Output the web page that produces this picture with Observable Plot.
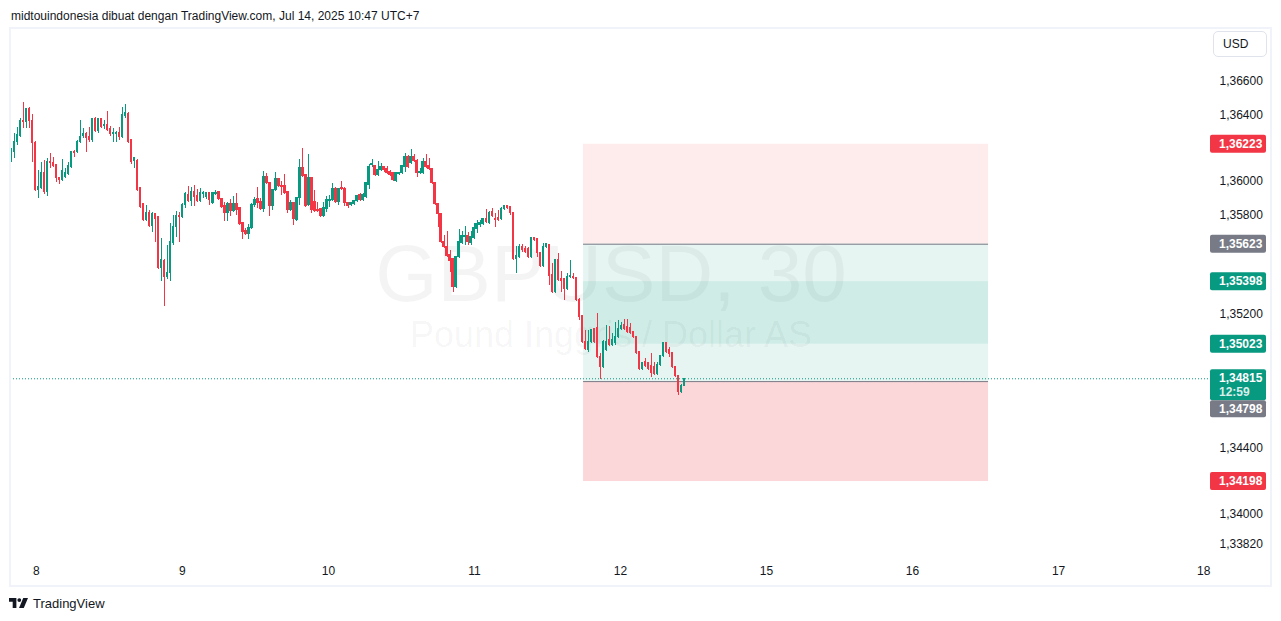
<!DOCTYPE html>
<html>
<head>
<meta charset="utf-8">
<script src="https://cdn.jsdelivr.net/npm/d3@7"></script>
<script src="https://cdn.jsdelivr.net/npm/@observablehq/plot@0.6"></script>
<style>
  html, body { margin:0; padding:0; background:#fff; width:1281px; height:621px; overflow:hidden;
    font-family:"Liberation Sans", Arial, sans-serif; color:#131722; }
  #header { position:absolute; left:11px; top:9px; font-size:12px; line-height:14px; white-space:nowrap; color:#131722; }
  #chart { position:absolute; left:0; top:28px; }
  #frame { position:absolute; left:9px; top:27px; width:1259px; height:556px; border:2px solid #F0F3FA; pointer-events:none; }
  #usd { position:absolute; left:1213px; top:31px; width:52px; height:24px; border:1px solid #E0E3EB; border-radius:5px;
    font-size:12px; line-height:24px; padding-left:0; text-indent:9px; color:#131722; background:#fff; }
  #footer { position:absolute; left:9px; top:596px; height:14px; display:flex; align-items:center; font-size:13px; color:#131722; }
  #footer svg { margin-right:5px; }
</style>
</head>
<body>
<div id="header"></div>
<div id="chart"></div>
<div id="frame"></div>
<div id="usd">USD</div>
<div id="footer">
  <svg width="19" height="10" viewBox="0 0 36 19" preserveAspectRatio="none">
    <path d="M0 0h14v19H7V7H0z" fill="#131722"/>
    <circle cx="19.5" cy="4" r="3.6" fill="#131722"/>
    <path d="M27 0h9l-8 19h-9z" fill="#131722"/>
  </svg>
  <span>TradingView</span>
</div>
<script>
// ---------- texts ----------
const headerText = "midtouindonesia dibuat dengan TradingView.com, Jul 14, 2025 10:47 UTC+7";
const symbolTitle = "GBPUSD, 30";
const symbolSubtitle = "Pound Inggris / Dollar AS";
const countdown = "12:59";

// ---------- candle data (GBPUSD 30m) ----------
const opens = [1.36138,1.36174,1.36234,1.36270,1.36360,1.36354,1.36432,1.36360,1.36228,1.35946,
1.35958,1.36048,1.35934,1.36114,1.36108,1.36096,1.36018,1.36006,1.36024,1.36042,
1.36084,1.36174,1.36174,1.36234,1.36270,1.36282,1.36264,1.36246,1.36372,1.36300,
1.36372,1.36330,1.36336,1.36312,1.36282,1.36282,1.36288,1.36264,1.36390,1.36402,
1.36246,1.36120,1.36120,1.35958,1.35862,1.35766,1.35808,1.35730,1.35802,1.35784,
1.35478,1.35520,1.35424,1.35448,1.35628,1.35724,1.35790,1.35784,1.35856,1.35916,
1.35880,1.35934,1.35910,1.35880,1.35922,1.35904,1.35928,1.35868,1.35922,1.35934,
1.35892,1.35850,1.35808,1.35862,1.35820,1.35862,1.35838,1.35748,1.35700,1.35682,
1.35718,1.35856,1.35892,1.35874,1.35832,1.36024,1.35988,1.35850,1.35946,1.36012,
1.35970,1.35970,1.35934,1.35826,1.35868,1.35766,1.35898,1.36078,1.36036,1.35856,
1.36018,1.35874,1.35826,1.35832,1.35790,1.35832,1.35880,1.35886,1.35952,1.35874,
1.35958,1.35952,1.35868,1.35856,1.35862,1.35880,1.35916,1.35886,1.35904,1.35976,
1.36096,1.36090,1.36036,1.36066,1.36084,1.36072,1.36054,1.36048,1.36000,1.36042,
1.36048,1.36084,1.36144,1.36108,1.36144,1.36120,1.36048,1.36048,1.36114,1.36090,
1.36072,1.35988,1.35862,1.35802,1.35634,1.35604,1.35556,1.35532,1.35364,1.35544,
1.35628,1.35664,1.35670,1.35628,1.35658,1.35712,1.35736,1.35742,1.35772,1.35748,
1.35814,1.35772,1.35778,1.35772,1.35832,1.35850,1.35844,1.35808,1.35532,1.35544,
1.35604,1.35592,1.35592,1.35544,1.35658,1.35652,1.35568,1.35490,1.35604,1.35616,
1.35436,1.35334,1.35526,1.35412,1.35412,1.35352,1.35424,1.35424,1.35418,1.35286,
1.35190,1.35034,1.34986,1.35034,1.35112,1.35118,1.34944,1.34884,1.34986,1.35046,
1.35016,1.35028,1.35064,1.35112,1.35136,1.35124,1.35118,1.35094,1.35064,1.34974,
1.34872,1.34914,1.34908,1.34890,1.34884,1.34842,1.34896,1.34950,1.35028,1.34986,
1.34968,1.34884,1.34830,1.34734,1.34774];
const highs = [1.36198,1.36288,1.36324,1.36378,1.36474,1.36432,1.36444,1.36402,1.36240,1.36066,
1.36114,1.36126,1.36138,1.36168,1.36144,1.36102,1.36024,1.36132,1.36078,1.36114,
1.36180,1.36186,1.36246,1.36366,1.36318,1.36294,1.36324,1.36378,1.36384,1.36378,
1.36378,1.36366,1.36420,1.36330,1.36318,1.36300,1.36324,1.36444,1.36462,1.36414,
1.36252,1.36144,1.36132,1.35964,1.35868,1.35856,1.35826,1.35814,1.35808,1.35790,
1.35658,1.35532,1.35616,1.35748,1.35796,1.35820,1.35814,1.35868,1.35934,1.35970,
1.35964,1.35976,1.35952,1.35958,1.35940,1.35934,1.35934,1.35934,1.35946,1.35940,
1.35898,1.35874,1.35874,1.35892,1.35910,1.35928,1.35844,1.35754,1.35718,1.35742,
1.35868,1.35904,1.35964,1.35898,1.36060,1.36048,1.35994,1.35952,1.36054,1.36018,
1.36000,1.36042,1.35940,1.35886,1.35874,1.35904,1.36132,1.36198,1.36042,1.36162,
1.36024,1.35946,1.35874,1.35838,1.35874,1.35910,1.35916,1.35988,1.35964,1.35958,
1.36000,1.35964,1.35874,1.35874,1.35886,1.35916,1.35928,1.35928,1.35994,1.36102,
1.36132,1.36096,1.36120,1.36108,1.36090,1.36090,1.36066,1.36054,1.36054,1.36054,
1.36096,1.36168,1.36156,1.36192,1.36162,1.36132,1.36078,1.36138,1.36162,1.36138,
1.36078,1.35994,1.35868,1.35808,1.35676,1.35700,1.35586,1.35538,1.35550,1.35712,
1.35700,1.35730,1.35694,1.35700,1.35748,1.35766,1.35766,1.35778,1.35832,1.35820,
1.35838,1.35808,1.35826,1.35844,1.35856,1.35856,1.35850,1.35814,1.35610,1.35622,
1.35622,1.35610,1.35604,1.35664,1.35664,1.35658,1.35574,1.35628,1.35628,1.35622,
1.35508,1.35532,1.35568,1.35460,1.35418,1.35448,1.35526,1.35448,1.35424,1.35298,
1.35196,1.35106,1.35106,1.35112,1.35118,1.35208,1.34968,1.35046,1.35136,1.35130,
1.35088,1.35154,1.35166,1.35154,1.35172,1.35172,1.35148,1.35100,1.35070,1.34980,
1.34914,1.34938,1.34914,1.34968,1.34914,1.34914,1.34956,1.35034,1.35034,1.35004,
1.34974,1.34890,1.34836,1.34780,1.34818];
const lows = [1.36114,1.36138,1.36216,1.36264,1.36318,1.36318,1.36318,1.36114,1.35940,1.35898,
1.35952,1.35922,1.35910,1.36078,1.36084,1.35994,1.35982,1.36000,1.36018,1.36036,
1.36078,1.36144,1.36168,1.36228,1.36258,1.36174,1.36234,1.36234,1.36294,1.36288,
1.36318,1.36312,1.36300,1.36270,1.36234,1.36234,1.36246,1.36258,1.36378,1.36228,
1.36102,1.36078,1.35940,1.35838,1.35760,1.35760,1.35724,1.35694,1.35634,1.35472,
1.35400,1.35250,1.35412,1.35400,1.35616,1.35664,1.35634,1.35778,1.35838,1.35874,
1.35850,1.35850,1.35874,1.35874,1.35898,1.35892,1.35856,1.35862,1.35916,1.35886,
1.35838,1.35760,1.35760,1.35790,1.35814,1.35796,1.35736,1.35652,1.35676,1.35652,
1.35712,1.35844,1.35838,1.35826,1.35814,1.35982,1.35790,1.35826,1.35940,1.35964,
1.35916,1.35922,1.35808,1.35820,1.35736,1.35760,1.35856,1.36024,1.35844,1.35850,
1.35808,1.35814,1.35814,1.35784,1.35784,1.35814,1.35844,1.35880,1.35868,1.35856,
1.35946,1.35850,1.35838,1.35850,1.35856,1.35874,1.35880,1.35880,1.35898,1.35952,
1.36084,1.36030,1.36030,1.36060,1.36054,1.36042,1.36030,1.36000,1.35994,1.36036,
1.36042,1.36054,1.36078,1.36102,1.36114,1.36024,1.36042,1.36042,1.36078,1.36066,
1.35982,1.35856,1.35724,1.35628,1.35598,1.35544,1.35454,1.35334,1.35358,1.35538,
1.35622,1.35616,1.35616,1.35616,1.35652,1.35688,1.35724,1.35736,1.35748,1.35742,
1.35784,1.35724,1.35760,1.35766,1.35826,1.35832,1.35796,1.35526,1.35448,1.35538,
1.35574,1.35568,1.35538,1.35538,1.35640,1.35544,1.35484,1.35484,1.35598,1.35376,
1.35328,1.35328,1.35400,1.35334,1.35286,1.35346,1.35418,1.35412,1.35280,1.35166,
1.35028,1.34986,1.34974,1.35028,1.35028,1.34938,1.34812,1.34878,1.34980,1.35010,
1.35010,1.35016,1.35058,1.35106,1.35106,1.35088,1.35082,1.35058,1.34962,1.34866,
1.34866,1.34884,1.34866,1.34824,1.34836,1.34836,1.34890,1.34944,1.34968,1.34944,
1.34878,1.34824,1.34716,1.34728,1.34770];
const closes = [1.36186,1.36234,1.36276,1.36360,1.36354,1.36432,1.36360,1.36228,1.35946,1.35964,
1.36048,1.35934,1.36114,1.36108,1.36090,1.36018,1.36006,1.36060,1.36048,1.36090,
1.36174,1.36168,1.36234,1.36264,1.36282,1.36258,1.36246,1.36372,1.36300,1.36372,
1.36324,1.36336,1.36306,1.36282,1.36288,1.36288,1.36264,1.36396,1.36408,1.36234,
1.36114,1.36138,1.35946,1.35844,1.35766,1.35808,1.35730,1.35802,1.35772,1.35478,
1.35526,1.35424,1.35448,1.35634,1.35724,1.35790,1.35784,1.35856,1.35922,1.35880,
1.35934,1.35904,1.35880,1.35928,1.35928,1.35928,1.35886,1.35928,1.35928,1.35892,
1.35844,1.35808,1.35862,1.35820,1.35862,1.35826,1.35742,1.35694,1.35682,1.35718,
1.35856,1.35886,1.35868,1.35832,1.36024,1.35988,1.35850,1.35946,1.36012,1.35970,
1.35964,1.35928,1.35826,1.35868,1.35772,1.35898,1.36078,1.36030,1.35850,1.36018,
1.35826,1.35820,1.35820,1.35790,1.35838,1.35886,1.35886,1.35952,1.35874,1.35952,
1.35952,1.35868,1.35850,1.35868,1.35880,1.35910,1.35886,1.35916,1.35988,1.36084,
1.36102,1.36036,1.36066,1.36084,1.36066,1.36048,1.36036,1.36006,1.36048,1.36048,
1.36090,1.36144,1.36084,1.36144,1.36120,1.36048,1.36054,1.36114,1.36084,1.36072,
1.35988,1.35862,1.35802,1.35634,1.35604,1.35550,1.35520,1.35364,1.35544,1.35634,
1.35670,1.35670,1.35634,1.35664,1.35718,1.35742,1.35748,1.35772,1.35754,1.35808,
1.35790,1.35766,1.35766,1.35832,1.35850,1.35838,1.35808,1.35532,1.35550,1.35604,
1.35586,1.35574,1.35544,1.35658,1.35646,1.35568,1.35490,1.35604,1.35622,1.35430,
1.35334,1.35526,1.35406,1.35400,1.35352,1.35424,1.35430,1.35418,1.35286,1.35184,
1.35034,1.34992,1.35034,1.35106,1.35034,1.34944,1.34884,1.35034,1.35034,1.35016,
1.35046,1.35064,1.35112,1.35130,1.35112,1.35094,1.35088,1.35064,1.34968,1.34872,
1.34908,1.34890,1.34872,1.34848,1.34842,1.34896,1.34950,1.35028,1.34974,1.34962,
1.34884,1.34830,1.34734,1.34774,1.34815];

// ---------- axes ----------
const priceTicks = [1.36600, 1.36400, 1.36000, 1.35800, 1.35200, 1.34400, 1.34000, 1.33820];
const dayLabels = ["8", "9", "10", "11", "12", "15", "16", "17", "18"];
const dayIndex  = [8.3, 56.9, 105.5, 154.1, 202.7, 251.3, 299.9, 348.5, 396.8];

// ---------- position tools ----------
const posStart = 190.4, posEnd = 325.2;
const shortStop = 1.36223, shortEntry = 1.35623, shortTarget = 1.35023;
const longEntry = 1.34798, longTarget = 1.35398, longStop = 1.34198;
const lastPrice = closes[closes.length - 1];

const up = "#089981", down = "#F23645", grayTag = "#787B86";

const candles = opens.map((o, i) => ({i, open:o, high:highs[i], low:lows[i], close:closes[i]}));
const upC = candles.filter(d => d.close >= d.open);
const dnC = candles.filter(d => d.close < d.open);
const days = dayLabels.map((label, k) => ({label, i: dayIndex[k]}));
const box = (a, b) => [{x1: posStart, x2: posEnd, y1: a, y2: b}];

document.getElementById("header").textContent = headerText;

const fmt = v => v.toFixed(5).replace(".", ",");
const font = "'Liberation Sans', Arial, sans-serif";

const plot = Plot.plot({
  width: 1281, height: 562,
  marginLeft: 10, marginRight: 62, marginTop: 0, marginBottom: 30,
  x: {domain: [0, 224], range: [11, 684], axis: null},
  y: {domain: [1.340, 1.366], range: [486, 53], axis: null},
  style: {background: "transparent", fontFamily: font, fontSize: "12px", color: "#131722", overflow: "visible"},
  marks: [
    Plot.text([symbolTitle], {text: d => d, frameAnchor: "middle", dx: -4, dy: -19, fontSize: 80, fill: "#000", fillOpacity: 0.045, fontFamily: font}),
    Plot.text([symbolSubtitle], {text: d => d, frameAnchor: "middle", dx: -4, dy: 41, fontSize: 36, fill: "#000", fillOpacity: 0.045, fontFamily: font}),
    // short position: stop zone + target zone
    Plot.rect(box(shortEntry, shortStop), {x1: "x1", x2: "x2", y1: "y1", y2: "y2", fill: down, fillOpacity: 0.1}),
    Plot.rect(box(shortTarget, shortEntry), {x1: "x1", x2: "x2", y1: "y1", y2: "y2", fill: up, fillOpacity: 0.1}),
    // long position: target zone + stop zone
    Plot.rect(box(longEntry, longTarget), {x1: "x1", x2: "x2", y1: "y1", y2: "y2", fill: up, fillOpacity: 0.1}),
    Plot.rect(box(longStop, longEntry), {x1: "x1", x2: "x2", y1: "y1", y2: "y2", fill: down, fillOpacity: 0.2}),
    Plot.ruleY([{y: shortEntry, ...box(0,0)[0]}, {y: longEntry, ...box(0,0)[0]}], {y: "y", x1: "x1", x2: "x2", stroke: grayTag, strokeWidth: 1}),
    // current price line
    Plot.ruleY([lastPrice], {stroke: up, strokeDasharray: "1,2", strokeWidth: 1}),
    // candles
    Plot.ruleX(upC, {x: "i", y1: "low", y2: "high", stroke: up, strokeWidth: 1, shapeRendering: "crispEdges"}),
    Plot.ruleX(dnC, {x: "i", y1: "low", y2: "high", stroke: down, strokeWidth: 1, shapeRendering: "crispEdges"}),
    Plot.rect(upC, {x1: d => d.i - 0.4, x2: d => d.i + 0.4, y1: "open", y2: "close", fill: up, insetTop: -0.5, insetBottom: -0.5, shapeRendering: "crispEdges"}),
    Plot.rect(dnC, {x1: d => d.i - 0.4, x2: d => d.i + 0.4, y1: "close", y2: "open", fill: down, insetTop: -0.5, insetBottom: -0.5, shapeRendering: "crispEdges"}),
    // price axis labels
    Plot.text(priceTicks, {y: d => d, text: d => fmt(d), frameAnchor: "right", textAnchor: "start", lineAnchor: "middle", fill: "#131722", fontSize: 12}),
    // time axis labels
    Plot.text(days, {x: "i", text: "label", frameAnchor: "bottom", lineAnchor: "middle", dy: 11, fill: "#131722", fontSize: 12})
  ]
});
document.getElementById("chart").appendChild(plot);

// ---------- price tags on the axis ----------
const ys = plot.scale("y");
const svg = d3.select(plot);
const g = svg.append("g").attr("font-family", font).attr("font-size", 12).attr("text-anchor", "start");
const tags = [
  {v: shortStop, bg: down},
  {v: shortEntry, bg: grayTag},
  {v: longTarget, bg: up},
  {v: shortTarget, bg: up},
  {v: longStop, bg: down}
];
function tag(top, h, bg, lines) {
  g.append("rect").attr("x", 1210).attr("y", top).attr("width", 56).attr("height", h).attr("rx", 2).attr("fill", bg);
  lines.forEach((t, k) => g.append("text").attr("x", 1219).attr("y", top + 9 + k * 14).attr("dy", "0.35em")
    .attr("text-anchor", "start").attr("font-weight", 600)
    .attr("fill", "#fff").attr("fill-opacity", k ? 0.85 : 1).text(t));
}
tags.forEach(t => { const y = ys.apply(t.v); tag(y - 9, 18, t.bg, [fmt(t.v)]); });
const yl = ys.apply(lastPrice);
tag(yl - 9, 31, up, [fmt(lastPrice), countdown]);
tag(yl + 22, 17, grayTag, [fmt(longEntry)]);
</script>
</body>
</html>
